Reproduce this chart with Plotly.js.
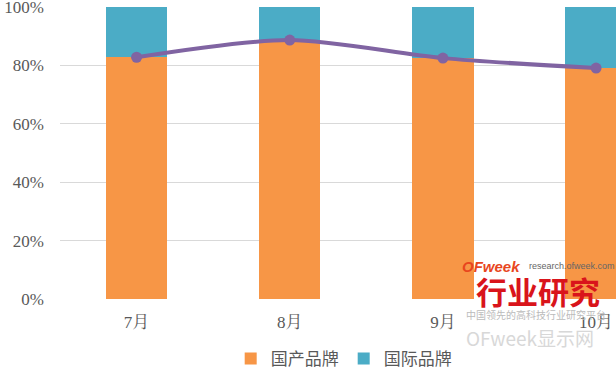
<!DOCTYPE html>
<html><head><meta charset="utf-8">
<script src="https://cdn.plot.ly/plotly-3.0.1.min.js"></script>
<style>html,body{margin:0;padding:0;background:#fff;}#chart{width:616px;height:371px;}</style>
</head><body><div id="chart"></div>
<script>
const months = ['7月', '8月', '9月', '10月'];
const domestic = [0.828, 0.887, 0.825, 0.791];
const international = [0.172, 0.113, 0.175, 0.209];
const domesticLine = [0.828, 0.887, 0.825, 0.791];
const yTicks = [0, 0.2, 0.4, 0.6, 0.8, 1.0];
const yTickText = ['0%', '20%', '40%', '60%', '80%', '100%'];

const serif = '"Liberation Serif", "Noto Serif CJK SC", "Noto Sans CJK SC", serif';
const cjk = '"Noto Sans CJK SC", sans-serif';

const traces = [
  {type: 'bar', name: '国产品牌', x: months, y: domestic, marker: {color: '#F79646'}, width: 0.4, hoverinfo: 'skip'},
  {type: 'bar', name: '国际品牌', x: months, y: international, marker: {color: '#4BACC6'}, width: 0.4, hoverinfo: 'skip'},
  {type: 'scatter', mode: 'lines+markers', x: months, y: domesticLine, showlegend: false,
   line: {color: '#8064A2', width: 4, shape: 'spline', smoothing: 0.8},
   marker: {color: '#8064A2', size: 11}, hoverinfo: 'skip'}
];

const layout = {
  width: 616, height: 371,
  margin: {l: 60, r: 0, t: 7, b: 72, autoexpand: false},
  barmode: 'stack',
  paper_bgcolor: '#fff', plot_bgcolor: '#fff',
  showlegend: true,
  legend: {orientation: 'h', x: 0.307, y: -0.205, xanchor: 'left', yanchor: 'middle',
           font: {family: cjk, size: 17, color: '#595959'}, itemwidth: 30, traceorder: 'normal'},
  xaxis: {type: 'category', range: [-0.5, 3.13], showgrid: false, zeroline: false, showline: false,
          ticks: '', ticklabelstandoff: 11, tickfont: {family: serif, size: 17, color: '#595959'}},
  yaxis: {range: [0, 1.0001], tickvals: yTicks, ticktext: yTickText, showgrid: true, gridcolor: '#D9D9D9',
          gridwidth: 1, zeroline: false, showline: false, ticks: '', ticklabelstandoff: 15,
          ticklabeloverflow: 'allow', tickfont: {family: serif, size: 17, color: '#595959'}},
  annotations: [
    {xref: 'paper', yref: 'paper', x: (460-60)/556, y: (299-266)/292, xanchor: 'left', yanchor: 'middle', showarrow: false,
     text: '<b><i>OFweek</i></b>', font: {family: '"Liberation Sans", sans-serif', size: 15, color: '#E8461E'}},
    {xref: 'paper', yref: 'paper', x: (527-60)/556, y: (299-266)/292, xanchor: 'left', yanchor: 'middle', showarrow: false,
     text: 'research.ofweek.com', font: {family: '"Liberation Sans", sans-serif', size: 9, color: '#666'}},
    {xref: 'paper', yref: 'paper', x: (538-60)/556, y: (299-290)/292, xanchor: 'center', yanchor: 'middle', showarrow: false,
     text: '<b>行业研究</b>', font: {family: cjk, size: 31, color: '#D9141B'}},
    {xref: 'paper', yref: 'paper', x: (536-60)/556, y: (299-314)/292, xanchor: 'center', yanchor: 'middle', showarrow: false,
     text: '中国领先的高科技行业研究平台', font: {family: cjk, size: 10, color: '#BBBBBB'}},
    {xref: 'paper', yref: 'paper', x: (530-60)/556, y: (299-337)/292, xanchor: 'center', yanchor: 'middle', showarrow: false,
     text: 'OFweek显示网', font: {family: cjk, size: 19, color: '#D8D8D8'}}
  ]
};

Plotly.newPlot('chart', traces, layout, {displayModeBar: false, staticPlot: true});
</script></body></html>
